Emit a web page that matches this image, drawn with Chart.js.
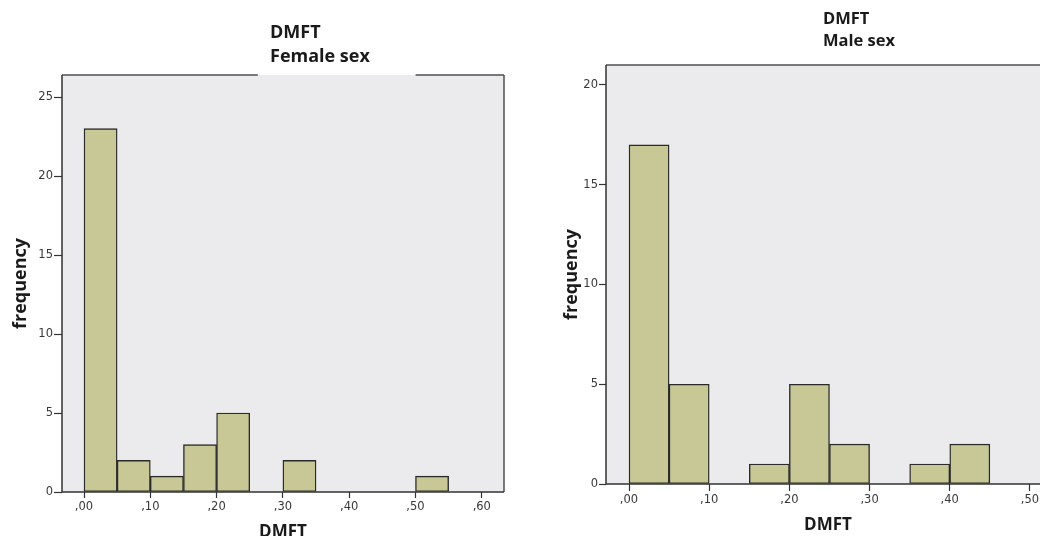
<!DOCTYPE html>
<html>
<head>
<meta charset="utf-8">
<script src="https://cdn.jsdelivr.net/npm/chart.js@4.4.1/dist/chart.umd.min.js"></script>
<style>
  html, body { margin: 0; padding: 0; background: #ffffff; width: 1040px; height: 536px; overflow: hidden; position: relative; }
  canvas { position: absolute; top: 0; }
  #cF { left: 0; }
  #cM { left: 520px; }
  .ttl { position: absolute; font-family: 'Open Sans', 'Noto Sans', sans-serif; font-weight: 700; color: #1a1a1a; white-space: nowrap; }
  #tF { left: 270px; top: 19px; font-size: 18px; line-height: 24px; }
  #tM { left: 823px; top: 7px; font-size: 16.5px; line-height: 22px; }
</style>
</head>
<body>
<canvas id="cF" width="520" height="560"></canvas>
<canvas id="cM" width="560" height="560"></canvas>
<div class="ttl" id="tF">DMFT<br>Female sex</div>
<div class="ttl" id="tM">DMFT<br>Male sex</div>
<script>
// ---- data ----
const binWidth = 0.05;
const femaleBinStart = [0.00, 0.05, 0.10, 0.15, 0.20, 0.30, 0.50];
const femaleFreq     = [23, 2, 1, 3, 5, 2, 1];
const maleBinStart   = [0.00, 0.05, 0.15, 0.20, 0.25, 0.35, 0.40];
const maleFreq       = [17, 5, 1, 5, 2, 1, 2];

const femaleYTicks = [0, 5, 10, 15, 20, 25];
const maleYTicks   = [0, 5, 10, 15, 20];
const femaleXTicks = [0.00, 0.10, 0.20, 0.30, 0.40, 0.50, 0.60];
const femaleXLabels = [',00', ',10', ',20', ',30', ',40', ',50', ',60'];
const maleXTicks = [0.00, 0.10, 0.20, 0.30, 0.40, 0.50];
const maleXLabels = [',00', ',10', ',20', ',30', ',40', ',50'];

const xTitle = 'DMFT';
const yTitle = 'frequency';

// ---- styling ----
const barFill = '#c8c796';
const barEdge = '#2a2a2a';
const plotBg = '#ebebed';
const frameColor = '#505050';
const tickFont = { family: "'DejaVu Sans', sans-serif", size: 11.5 };
const tickColor = '#383838';
const titleFont = { family: "'Open Sans', 'Noto Sans', sans-serif", size: 18, weight: 'bold' };

const framePlugin = {
  id: 'frame',
  beforeDraw(chart, args, opts) {
    const { ctx, chartArea: a } = chart;
    ctx.save();
    ctx.fillStyle = opts.bg;
    ctx.fillRect(a.left, a.top, a.right - a.left, a.bottom - a.top);
    ctx.restore();
  },
  afterDatasetsDraw(chart, args, opts) {
    const { ctx, chartArea: a } = chart;
    ctx.save();
    ctx.strokeStyle = opts.color;
    ctx.lineWidth = 1.5;
    ctx.beginPath();
    const w = a.right - a.left;
    if (opts.gap) {
      ctx.moveTo(a.left, a.top); ctx.lineTo(a.left + w * opts.gap[0], a.top);
      ctx.moveTo(a.left + w * opts.gap[1], a.top); ctx.lineTo(a.right, a.top);
    } else {
      ctx.moveTo(a.left, a.top); ctx.lineTo(a.right, a.top);
    }
    ctx.moveTo(a.right, a.top); ctx.lineTo(a.right, a.bottom);
    ctx.stroke();
    ctx.strokeStyle = '#333333';
    ctx.beginPath();
    ctx.moveTo(a.left, a.top); ctx.lineTo(a.left, a.bottom); ctx.lineTo(a.right, a.bottom);
    ctx.stroke();
    ctx.restore();
  }
};

function makeHist(canvasId, cfg) {
  const data = cfg.starts.map((s, i) => ({ x: s + binWidth / 2, y: cfg.freq[i] }));
  return new Chart(document.getElementById(canvasId), {
    type: 'bar',
    data: {
      datasets: [{
        data: data,
        backgroundColor: barFill,
        borderColor: barEdge,
        borderWidth: 1.4,
        borderSkipped: false,
        barPercentage: 1,
        categoryPercentage: 1
      }]
    },
    options: {
      responsive: false,
      animation: false,
      events: [],
      layout: { padding: cfg.padding },
      plugins: {
        legend: { display: false },
        tooltip: { enabled: false },
        title: { display: false },
        frame: { bg: plotBg, color: frameColor, gap: cfg.gap }
      },
      scales: {
        x: {
          type: 'linear',
          offset: false,
          min: cfg.xMin, max: cfg.xMax,
          afterBuildTicks: (s) => { s.ticks = cfg.xTicks.map(v => ({ value: v })); },
          afterFit: (s) => { s.height = cfg.xAxisH; },
          grid: { display: true, offset: false, drawOnChartArea: false, drawTicks: true, tickLength: cfg.xTickLen, tickColor: '#333333', tickWidth: 1.2, color: '#333333' },
          border: { display: false },
          ticks: {
            autoSkip: false, maxRotation: 0, padding: 2,
            font: tickFont, color: tickColor,
            callback: (v, i) => cfg.xLabels[i]
          },
          title: { display: true, text: xTitle, font: { ...titleFont, size: 17 }, color: '#1a1a1a', padding: { top: 0, bottom: 0 } }
        },
        y: {
          type: 'linear',
          min: 0, max: cfg.yMax,
          afterBuildTicks: (s) => { s.ticks = cfg.yTicks.map(v => ({ value: v })); },
          afterFit: (s) => { s.width = cfg.yAxisW; },
          grid: { display: true, drawOnChartArea: false, drawTicks: true, tickLength: cfg.yTickLen, tickColor: '#333333', tickWidth: 1.2, color: '#333333' },
          border: { display: false },
          ticks: { autoSkip: false, padding: 1, font: tickFont, color: tickColor },
          title: { display: true, text: yTitle, font: titleFont, color: '#1a1a1a', padding: { top: cfg.yTitlePad, bottom: 0 } }
        }
      }
    },
    plugins: [framePlugin]
  });
}

makeHist('cF', {
  starts: femaleBinStart, freq: femaleFreq,
  xMin: -0.0332, xMax: 0.6335, xTicks: femaleXTicks, xLabels: femaleXLabels,
  yMax: 26.4, yTicks: femaleYTicks,
  padding: { left: 0, top: 75, right: 16, bottom: 18 },
  xAxisH: 50, yAxisW: 62, xTickLen: 6, yTickLen: 8, yTitlePad: 10,
  gap: [0.443, 0.80]
});

makeHist('cM', {
  starts: maleBinStart, freq: maleFreq,
  xMin: -0.0287, xMax: 0.525, xTicks: maleXTicks, xLabels: maleXLabels,
  yMax: 21.0, yTicks: maleYTicks,
  padding: { left: 0, top: 65, right: 30, bottom: 25 },
  xAxisH: 51, yAxisW: 86, xTickLen: 7, yTickLen: 7, yTitlePad: 41,
  gap: null
});
</script>
</body>
</html>
